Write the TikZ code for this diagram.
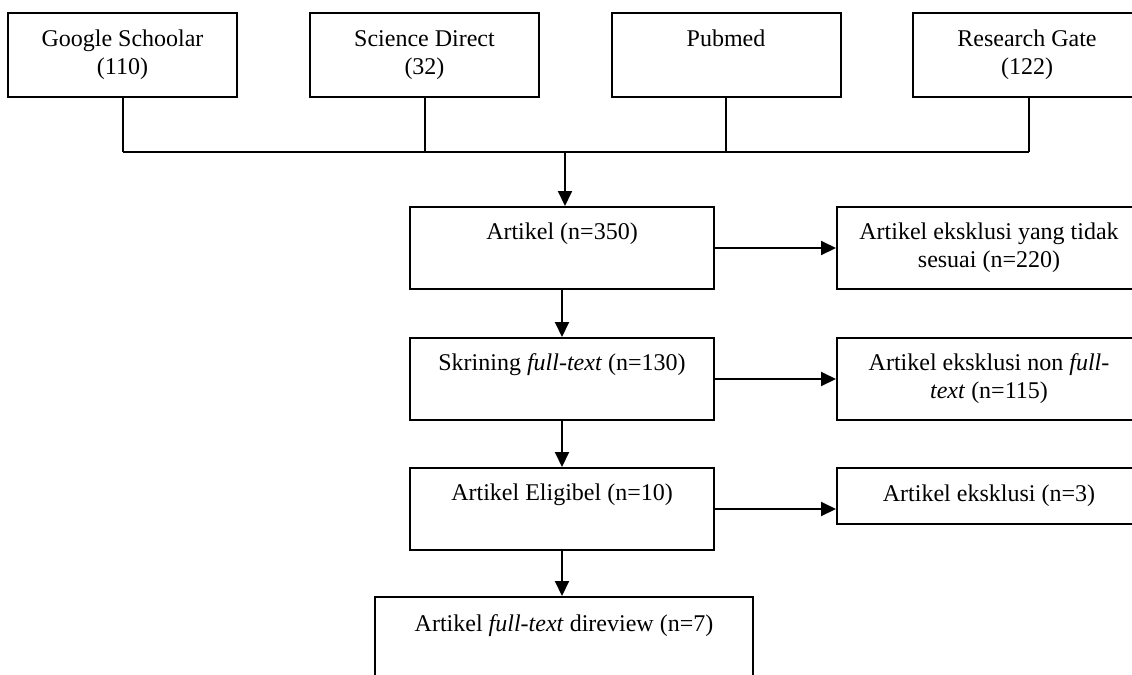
\documentclass[tikz,border=0pt]{standalone}
\usepackage{fontspec}
\setmainfont{Liberation Serif}
\usetikzlibrary{positioning,arrows.meta}

\begin{document}
\begin{tikzpicture}[x=0.5pt, y=-0.5pt, line width=1pt, draw=black,
		box/.style={rectangle, draw=black, line width=1pt, align=center, inner sep=2pt, font=\fontsize{12}{14}\selectfont},
		srcbox/.style={box, minimum width=114.5pt, minimum height=42pt},
		stepbox/.style={box, minimum width=152pt, minimum height=41pt}]
		\tikzset{>={Triangle[length=7.5pt,width=7pt]}}
		\useasboundingbox (0,0) rectangle (1132,675);
		\clip (0,0) rectangle (1132,675);

		% database
		\node[srcbox] (gsource) at (122.5,55) {Google Schoolar\strut\\(110)\strut};
		\node[srcbox] (sdirect) at (424.5,55) {Science Direct\strut\\(32)\strut};
		\node[srcbox] (pubmed) at (726,55) {Pubmed\strut\\\strut};
		\node[srcbox] (rgate) at (1027,55) {Research Gate\strut\\(122)\strut};
		\coordinate (busL) at (123,152);
		\coordinate (busR) at (1029,152);
		\coordinate (bus) at (565,152);
		\draw (gsource.south) -- (gsource.south |- busL);
		\draw (sdirect.south) -- (sdirect.south |- busL);
		\draw (pubmed.south) -- (pubmed.south |- busL);
		\draw (busR |- rgate.south) -- (busR);
		\draw (busL) -- (busR);

		% seleksi
		\node[stepbox] (artikel) at (562,248) {Artikel (n=350)\strut\\\strut};
		\node[stepbox] (excl1) at (989,248) {Artikel eksklusi yang tidak\strut\\sesuai (n=220)\strut};
		\node[stepbox] (skrining) at (562,379) {Skrining \textit{full-text} (n=130)\strut\\\strut};
		\node[stepbox] (excl2) at (989,379) {Artikel eksklusi non \textit{full-}\strut\\\textit{text} (n=115)\strut};
		\node[stepbox] (eligibel) at (562,509) {Artikel Eligibel (n=10)\strut\\\strut};
		\node[box, minimum width=152pt, minimum height=28pt] (excl3) at (989,496) {Artikel eksklusi (n=3)\strut};
		\node[box, minimum width=189pt, minimum height=43pt, anchor=north] (final) at (564,596) {Artikel \textit{full-text} direview (n=7)\strut\\\strut};

		\path (bus) edge[->] (bus |- artikel.north);
		\path (artikel.east) edge[->] (artikel.east -| excl1.west);
		\path (artikel.south) edge[->] (skrining.north);
		\path (skrining.east) edge[->] (skrining.east -| excl2.west);
		\path (skrining.south) edge[->] (eligibel.north);
		\path (eligibel.east) edge[->] (eligibel.east -| excl3.west);
		\path (eligibel.south) edge[->] (eligibel.south |- final.north);
		
	\end{tikzpicture}
\end{document}
